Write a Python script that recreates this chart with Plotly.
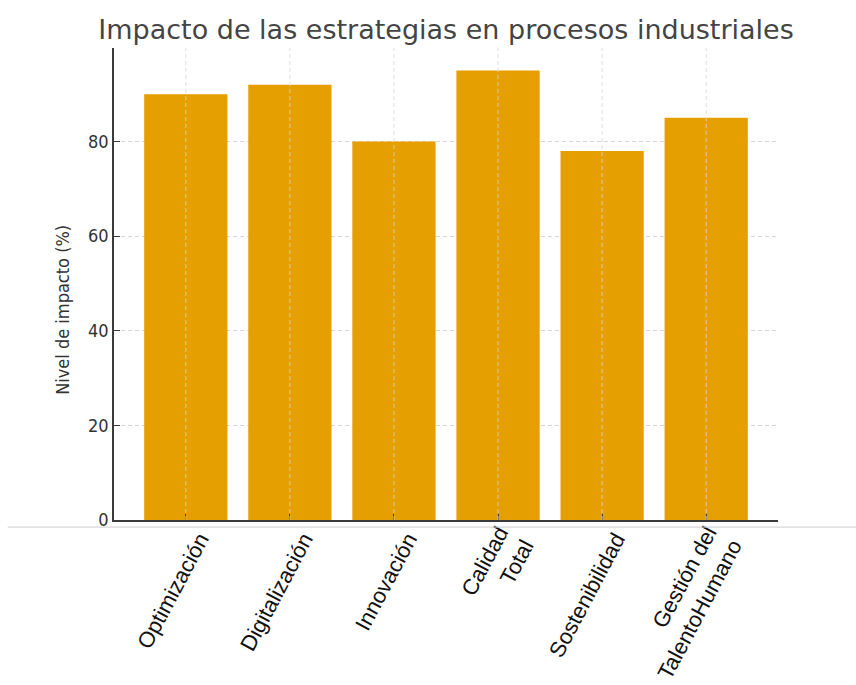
import plotly.graph_objects as go

# Strategy impact levels (%)
estrategias = ["Optimización", "Digitalización", "Innovación", "Calidad<br>Total",
               "Sostenibilidad", "Gestión del<br>TalentoHumano"]
impacto = [90, 92, 80, 95, 78, 85]
y_ticks = [0, 20, 40, 60, 80]

BAR_COLOR = "#E69F00"
AXIS_COLOR = "#3a3a3a"
GRID_COLOR = "#d6d6d6"
NARROW = "DejaVu Sans Condensed, DejaVu Sans"

fig = go.Figure()
fig.add_trace(go.Bar(
    x=list(range(len(estrategias))),
    y=impacto,
    width=0.8,
    marker=dict(color=BAR_COLOR, line=dict(width=0)),
    hovertext=estrategias,
))

# Vertical dashed grid drawn over the bars at each category
for i in range(len(estrategias)):
    fig.add_shape(type="line", xref="x", yref="paper", x0=i, x1=i, y0=0, y1=1,
                  line=dict(color=GRID_COLOR, width=0.8, dash="4px,3px"), layer="above")

# Thin separator line under the axes
fig.add_shape(type="line", xref="paper", yref="paper", x0=-0.16, x1=1.2,
              y0=-0.015, y1=-0.015, line=dict(color="#cccccc", width=1))

# Y-axis label placed as a rotated annotation
fig.add_annotation(text="Nivel de impacto (%)", xref="paper", yref="paper",
                   x=-0.077, y=0.445, xanchor="center", yanchor="middle",
                   textangle=-90, showarrow=False,
                   font=dict(family=NARROW, size=18, color="#333333"))

fig.update_layout(
    width=856, height=685,
    margin=dict(l=114, r=78, t=48, b=165, autoexpand=False),
    paper_bgcolor="white", plot_bgcolor="white",
    showlegend=False,
    title=dict(text="Impacto de las estrategias en procesos industriales",
               x=0.5, xref="paper", y=1 - 30 / 685, yref="container",
               xanchor="center", yanchor="middle",
               font=dict(family="DejaVu Sans", size=27, color="#444444")),
    xaxis=dict(
        range=[-0.69, 5.69], automargin=False,
        tickmode="array", tickvals=list(range(len(estrategias))), ticktext=estrategias,
        tickangle=-62, ticks="inside", ticklen=6, tickcolor=AXIS_COLOR,
        ticklabelshift=14, ticklabelstandoff=-4,
        showgrid=False, zeroline=False,
        showline=True, linecolor=AXIS_COLOR, linewidth=1.5,
        tickfont=dict(family="Liberation Sans", size=22, color="#111111"),
    ),
    yaxis=dict(
        range=[0, 99.75], automargin=False,
        tickmode="array", tickvals=y_ticks,
        ticks="inside", ticklen=6, tickcolor=AXIS_COLOR,
        showgrid=True, gridcolor=GRID_COLOR, griddash="4px,3px", gridwidth=0.8,
        zeroline=False,
        showline=True, linecolor=AXIS_COLOR, linewidth=1.5,
        tickfont=dict(family=NARROW, size=18, color="#333333"),
    ),
)

fig.write_html("out.html")
